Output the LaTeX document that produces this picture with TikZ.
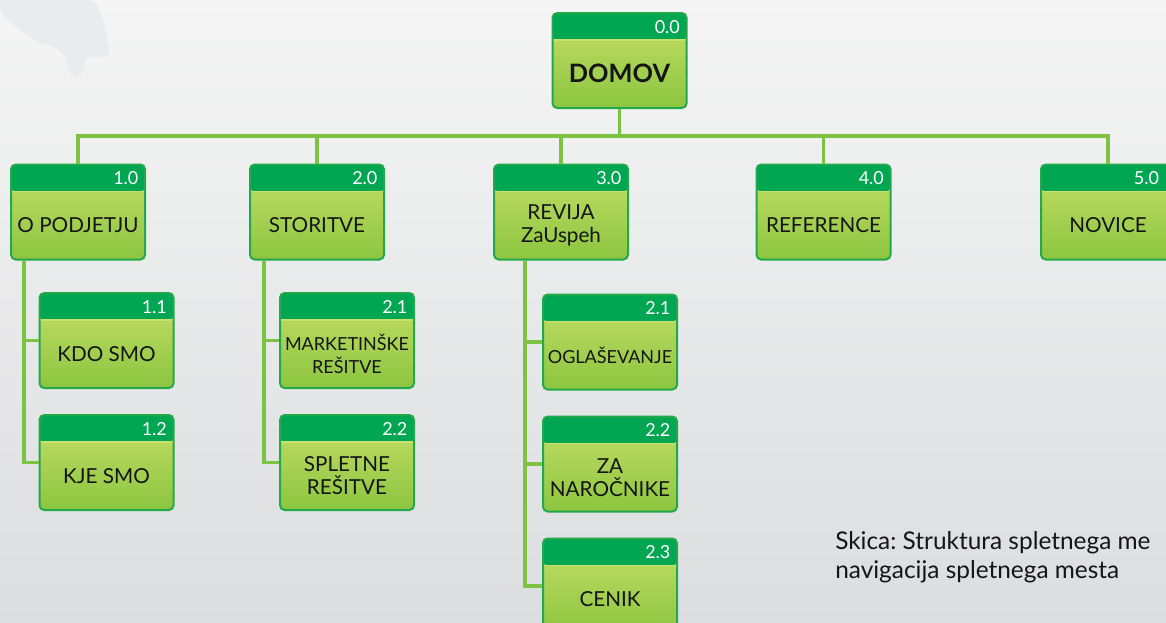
\documentclass[tikz,border=0pt]{standalone}
\usepackage{fontspec}
\setmainfont{Lato}
\usetikzlibrary{positioning}
\definecolor{hdrgreen}{HTML}{00A651}
\definecolor{boxedge}{HTML}{22A94B}
\definecolor{bodytop}{HTML}{C6DF68}
\definecolor{bodybot}{HTML}{8CC540}
\definecolor{sepline}{HTML}{C8E16C}
\definecolor{linkgreen}{HTML}{7DC242}
\definecolor{bgtop}{HTML}{F4F5F4}
\definecolor{bgbot}{HTML}{DCDDDF}
\definecolor{blob}{HTML}{EAEBEC}
\definecolor{ink}{HTML}{151515}
\tikzset{
	page/.style={draw=boxedge,line width=1.5pt,rounded corners=3.5pt,
		minimum width=100.5pt,minimum height=71.25pt,inner sep=0pt,
		top color=bodytop,bottom color=bodybot,
		path picture={
			\fill[hdrgreen] (path picture bounding box.north west) rectangle ([yshift=-20.25pt]path picture bounding box.north east);
			\draw[sepline,line width=0.9pt] ([yshift=-20.25pt]path picture bounding box.north west) -- ([yshift=-20.25pt]path picture bounding box.north east);
		}},
	pagenum/.style={anchor=north east,inner sep=0pt,xshift=-5.5pt,yshift=-6pt,
		text=white,font=\fontsize{13.5}{13.5}\selectfont},
	pagetext/.style={anchor=center,yshift=-10pt,align=center,text=ink,
		font=\fontsize{15.5}{17}\selectfont},
	narrow/.style={pagetext,font=\fontsize{13.5}{17}\selectfont},
	link/.style={draw=linkgreen,line width=2.6pt}
}
\begin{document}
\begin{tikzpicture}[x=0.75pt,y=-0.75pt,node distance=18.75pt]

\shade[top color=bgtop,bottom color=bgbot] (0,0) rectangle (1166,622);
\useasboundingbox (0,0) rectangle (1166,622);
\fill[blob] (0,0) -- (93,0) .. controls (102,10) and (106,30) .. (108,45)
	.. controls (111,55) and (106,57) .. (98,57) -- (88,57)
	.. controls (84,60) and (84,77) .. (77,77)
	.. controls (70,77) and (67,68) .. (65,57)
	.. controls (60,48) and (52,45) .. (40,43)
	.. controls (25,35) and (8,22) .. (0,10) -- cycle;

% top level
\node[page,label={[pagenum]north east:0.0},
	label={[pagetext,font=\bfseries\fontsize{19}{20}\selectfont]center:DOMOV}] (home) at (619.5,60.5) {};

\node[page,label={[pagenum]north east:1.0},label={[pagetext]center:O PODJETJU}] (company) at (78,212) {};
\node[page,label={[pagenum]north east:2.0},label={[pagetext]center:STORITVE}] (services) at (317,212) {};
\node[page,label={[pagenum]north east:3.0},label={[pagetext]center:{REVIJA\\ZaUspeh}}] (magazine) at (561,212) {};
\node[page,label={[pagenum]north east:4.0},label={[pagetext]center:REFERENCE}] (refs) at (823.5,212) {};
\node[page,label={[pagenum,xshift=-7pt]north east:5.0},label={[pagetext]center:NOVICE}] (news) at (1108,212) {};

% sub pages
\node[page,label={[pagenum]north east:1.1},label={[pagetext]center:KDO SMO}] (whoweare) at (106.5,340.5) {};
\node[page,below=of whoweare,label={[pagenum]north east:1.2},label={[pagetext]center:KJE SMO}] (wherewe) {};

\node[page,label={[pagenum]north east:2.1},label={[narrow]center:{MARKETINŠKE\\REŠITVE}}] (marketing) at (347,340.5) {};
\node[page,below=of marketing,label={[pagenum]north east:2.2},label={[pagetext]center:{SPLETNE\\REŠITVE}}] (websol) {};

\node[page,label={[pagenum]north east:2.1},label={[narrow]center:OGLAŠEVANJE}] (ads) at (610,342) {};
\node[page,below=of ads,label={[pagenum]north east:2.2},label={[pagetext]center:{ZA\\NAROČNIKE}}] (subscr) {};
\node[page,below=of subscr,label={[pagenum]north east:2.3},label={[pagetext]center:CENIK}] (prices) {};

% links
\coordinate (bus) at (619.5,136);
\draw[link] (home.south) -- (bus);
\foreach \n in {company,services,magazine,refs,news}
	\draw[link] (bus) -| (\n.north);

\draw[link] ([xshift=10.5pt]company.south west) |- (whoweare.west);
\draw[link] ([xshift=10.5pt]company.south west) |- (wherewe.west);
\draw[link] ([xshift=11.25pt]services.south west) |- (marketing.west);
\draw[link] ([xshift=11.25pt]services.south west) |- (websol.west);
\draw[link] ([xshift=24pt]magazine.south west) |- (ads.west);
\draw[link] ([xshift=24pt]magazine.south west) |- (subscr.west);
\draw[link] ([xshift=24pt]magazine.south west) |- (prices.west);

\node[anchor=north west,align=left,inner sep=0pt,text=ink,
	font=\frenchspacing\fontsize{18.3}{22}\selectfont] (note) at (835,531)
	{Skica: Struktura spletnega me\\navigacija spletnega mesta};

\end{tikzpicture}
\end{document}
